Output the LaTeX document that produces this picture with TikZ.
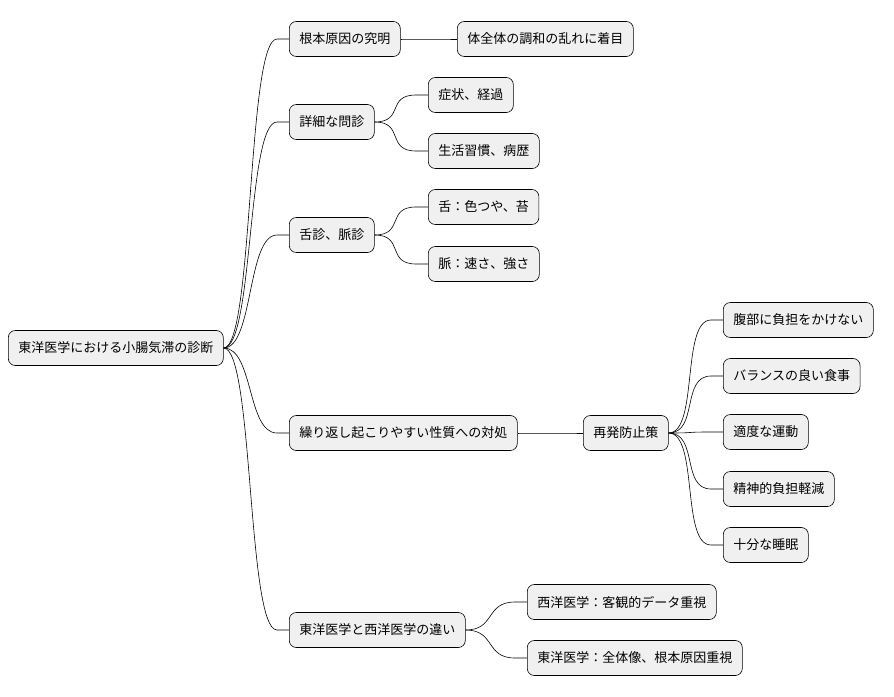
\documentclass[tikz,border=0pt]{standalone}
\usepackage{fontspec}
\setmainfont{Noto Sans CJK JP}
\tikzset{
  topic/.style={draw=black, fill=gray!12, rounded corners=7pt, minimum height=35pt,
    inner xsep=10pt, anchor=west, font=\fontsize{13}{15}\selectfont},
  branch/.style={to path={(\tikztostart.east) .. controls +(30,0) and +(-30,0) ..
    ([xshift=-12pt]\tikztotarget.west) -- (\tikztotarget.west)}}
}
\begin{document}
\begin{tikzpicture}[x=1pt, y=-1pt, line width=0.6pt]
  \useasboundingbox (0,0) rectangle (894,696);
  \node (root) [topic] at (8,348) {東洋医学における小腸気滞の診断};

  \node (cause) [topic] at (289,39) {根本原因の究明};
  \node (harmony) [topic] at (457,39) {体全体の調和の乱れに着目};

  \node (inquiry) [topic] at (289,122) {詳細な問診};
  \node (symptom) [topic] at (428,95) {症状、経過};
  \node (habit) [topic] at (428,151) {生活習慣、病歴};

  \node (exam) [topic] at (289,235) {舌診、脈診};
  \node (tongue) [topic] at (428,207) {舌：色つや、苔};
  \node (pulse) [topic] at (428,264) {脈：速さ、強さ};

  \node (relapse) [topic] at (289,433) {繰り返し起こりやすい性質への対処};
  \node (prevent) [topic] at (583,433) {再発防止策};
  \node (belly) [topic] at (723,320) {腹部に負担をかけない};
  \node (meal) [topic] at (723,376) {バランスの良い食事};
  \node (exercise) [topic] at (723,432) {適度な運動};
  \node (stress) [topic] at (723,489) {精神的負担軽減};
  \node (sleep) [topic] at (723,545) {十分な睡眠};

  \node (diff) [topic] at (289,630) {東洋医学と西洋医学の違い};
  \node (west) [topic] at (527,602) {西洋医学：客観的データ重視};
  \node (east) [topic] at (527,658) {東洋医学：全体像、根本原因重視};

  % branches from parent to child
  \foreach \a/\b in {root/cause, root/inquiry, root/exam, root/relapse, root/diff,
      cause/harmony, inquiry/symptom, inquiry/habit, exam/tongue, exam/pulse,
      relapse/prevent, prevent/belly, prevent/meal, prevent/exercise,
      prevent/stress, prevent/sleep, diff/west, diff/east}
    \draw (\a) to[branch] (\b);
\end{tikzpicture}
\end{document}
